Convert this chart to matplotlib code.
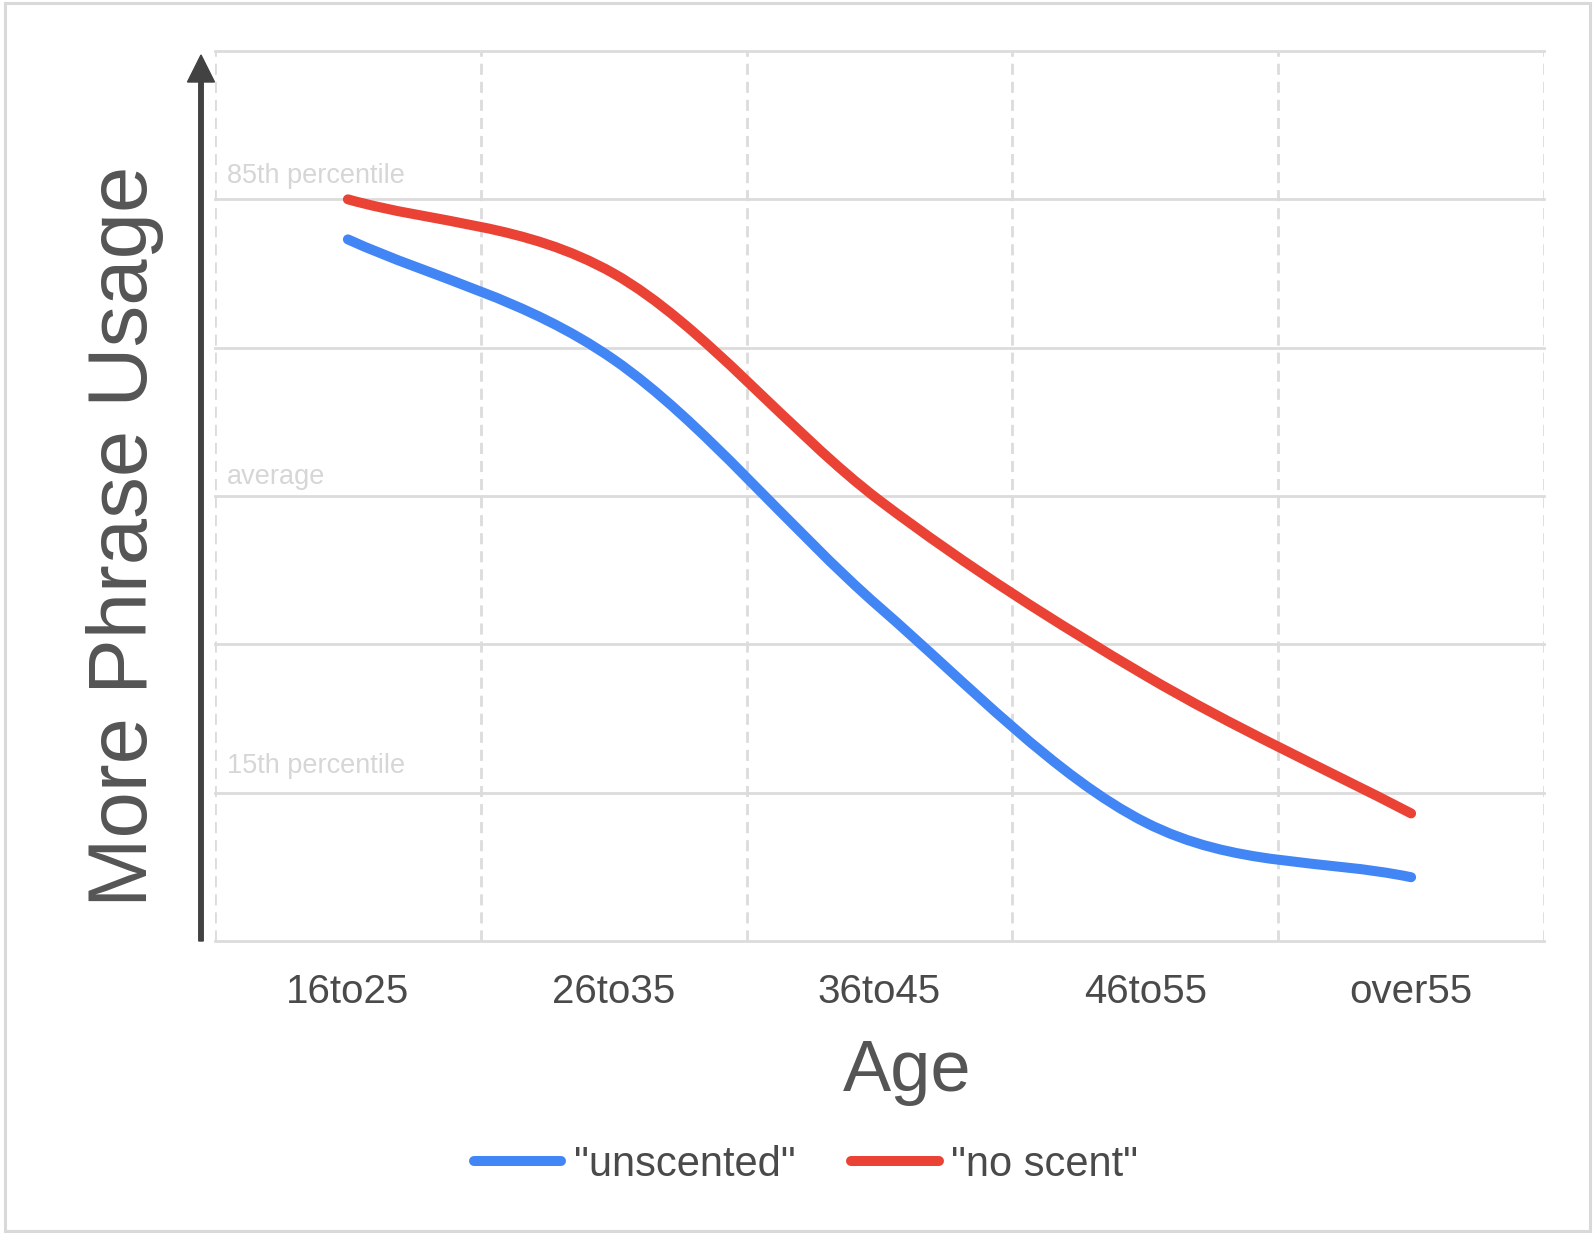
import numpy as np
import matplotlib
matplotlib.use("Agg")
import matplotlib.pyplot as plt
from matplotlib.path import Path
from matplotlib.patches import PathPatch, FancyArrow, Rectangle
from matplotlib.lines import Line2D

plt.rcParams['font.family'] = ['Liberation Sans', 'DejaVu Sans']

# ---- data ----
categories = ["16to25", "26to35", "36to45", "46to55", "over55"]
unscented = [4.73, 3.92, 2.25, 0.80, 0.43]
no_scent = [5.00, 4.50, 2.97, 1.79, 0.86]
series_names = ['"unscented"', '"no scent"']
band_labels = ["15th percentile", "average", "85th percentile"]
band_values = [1, 3, 5]

BLUE = "#4285F4"
RED = "#EA4335"
GRID = "#dcdcdc"
TXT = "#4a4a4a"

W, H = 1595, 1237
fig = plt.figure(figsize=(W / 100, H / 100), dpi=100)

# outer frame
fig.patches.append(Rectangle((5 / W, 6 / H), 1585 / W, 1228 / H, transform=fig.transFigure,
                             fill=False, edgecolor="#d9d9d9", linewidth=2.2))

ax = fig.add_axes([215 / W, (H - 941) / H, (1544 - 215) / W, (941 - 51) / H])
ax.set_xlim(-0.5, len(categories) - 0.5)
ax.set_ylim(0, 6)
for s in ax.spines.values():
    s.set_visible(False)

ax.set_yticks(range(0, 7))
ax.set_yticklabels([])
ax.tick_params(axis='y', length=0)
ax.set_xticks(range(len(categories)))
ax.set_xticklabels(categories, fontsize=29, color=TXT)
ax.set_xticks(np.arange(-0.5, len(categories)), minor=True)
ax.tick_params(axis='x', which='both', length=0, pad=23)
ax.grid(True, axis='y', which='major', color=GRID, linewidth=2, linestyle='-')
ax.grid(True, axis='x', which='minor', color=GRID, linewidth=2, linestyle=(0, (4, 2.5)))
ax.grid(False, axis='x', which='major')
for gl in ax.get_xgridlines() + ax.get_ygridlines():
    gl.set_clip_on(False)
ax.set_axisbelow(True)


def smooth_path(xs, ys):
    xs = np.asarray(xs, float)
    ys = np.asarray(ys, float)
    n = len(xs)
    tx = np.zeros(n)
    ty = np.zeros(n)
    for i in range(n):
        if i == 0:
            tx[i], ty[i] = xs[1] - xs[0], ys[1] - ys[0]
        elif i == n - 1:
            tx[i], ty[i] = xs[-1] - xs[-2], ys[-1] - ys[-2]
        else:
            tx[i], ty[i] = (xs[i + 1] - xs[i - 1]) / 2, (ys[i + 1] - ys[i - 1]) / 2
    verts = [(xs[0], ys[0])]
    codes = [Path.MOVETO]
    for i in range(n - 1):
        verts += [(xs[i] + tx[i] / 3, ys[i] + ty[i] / 3),
                  (xs[i + 1] - tx[i + 1] / 3, ys[i + 1] - ty[i + 1] / 3),
                  (xs[i + 1], ys[i + 1])]
        codes += [Path.CURVE4] * 3
    return Path(verts, codes)


x = np.arange(len(categories))
for vals, col in [(unscented, BLUE), (no_scent, RED)]:
    p = PathPatch(smooth_path(x, vals), fill=False, edgecolor=col, linewidth=7.2,
                  capstyle='round', joinstyle='round', zorder=3)
    ax.add_patch(p)

label_offsets = [14.2, 8.4, 12]
for lab, v, off in zip(band_labels, band_values, label_offsets):
    ax.annotate(lab, xy=(-0.5, v), xytext=(8.5, off), textcoords='offset points',
                fontsize=19.5, color="#d6d6d6", va='baseline', ha='left')

# vertical axis arrow
fig.patches.append(FancyArrow(2.01, (H - 941) / 100, 0, (941 - 55) / 100, width=0.045,
                              head_width=0.27, head_length=0.27, length_includes_head=True,
                              color="#424242", transform=fig.dpi_scale_trans))

fig.text(147 / W, (H - 536) / H, "More Phrase Usage", rotation=90, rotation_mode='anchor',
         ha='center', va='baseline', fontsize=60, color="#555555")
fig.text(907 / W, (H - 1091) / H, "Age", ha='center', va='baseline', fontsize=52, color="#555555")

handles = [Line2D([], [], color=BLUE, linewidth=7.2, solid_capstyle='round'),
           Line2D([], [], color=RED, linewidth=7.2, solid_capstyle='round')]
leg = fig.legend(handles, series_names, loc='center', bbox_to_anchor=(806 / W, (H - 1165) / H),
                 ncol=2, frameon=False, fontsize=30, handlelength=2.1, handletextpad=0.3,
                 columnspacing=1.35)
for t in leg.get_texts():
    t.set_color(TXT)

fig.savefig("out.png", dpi=100)
